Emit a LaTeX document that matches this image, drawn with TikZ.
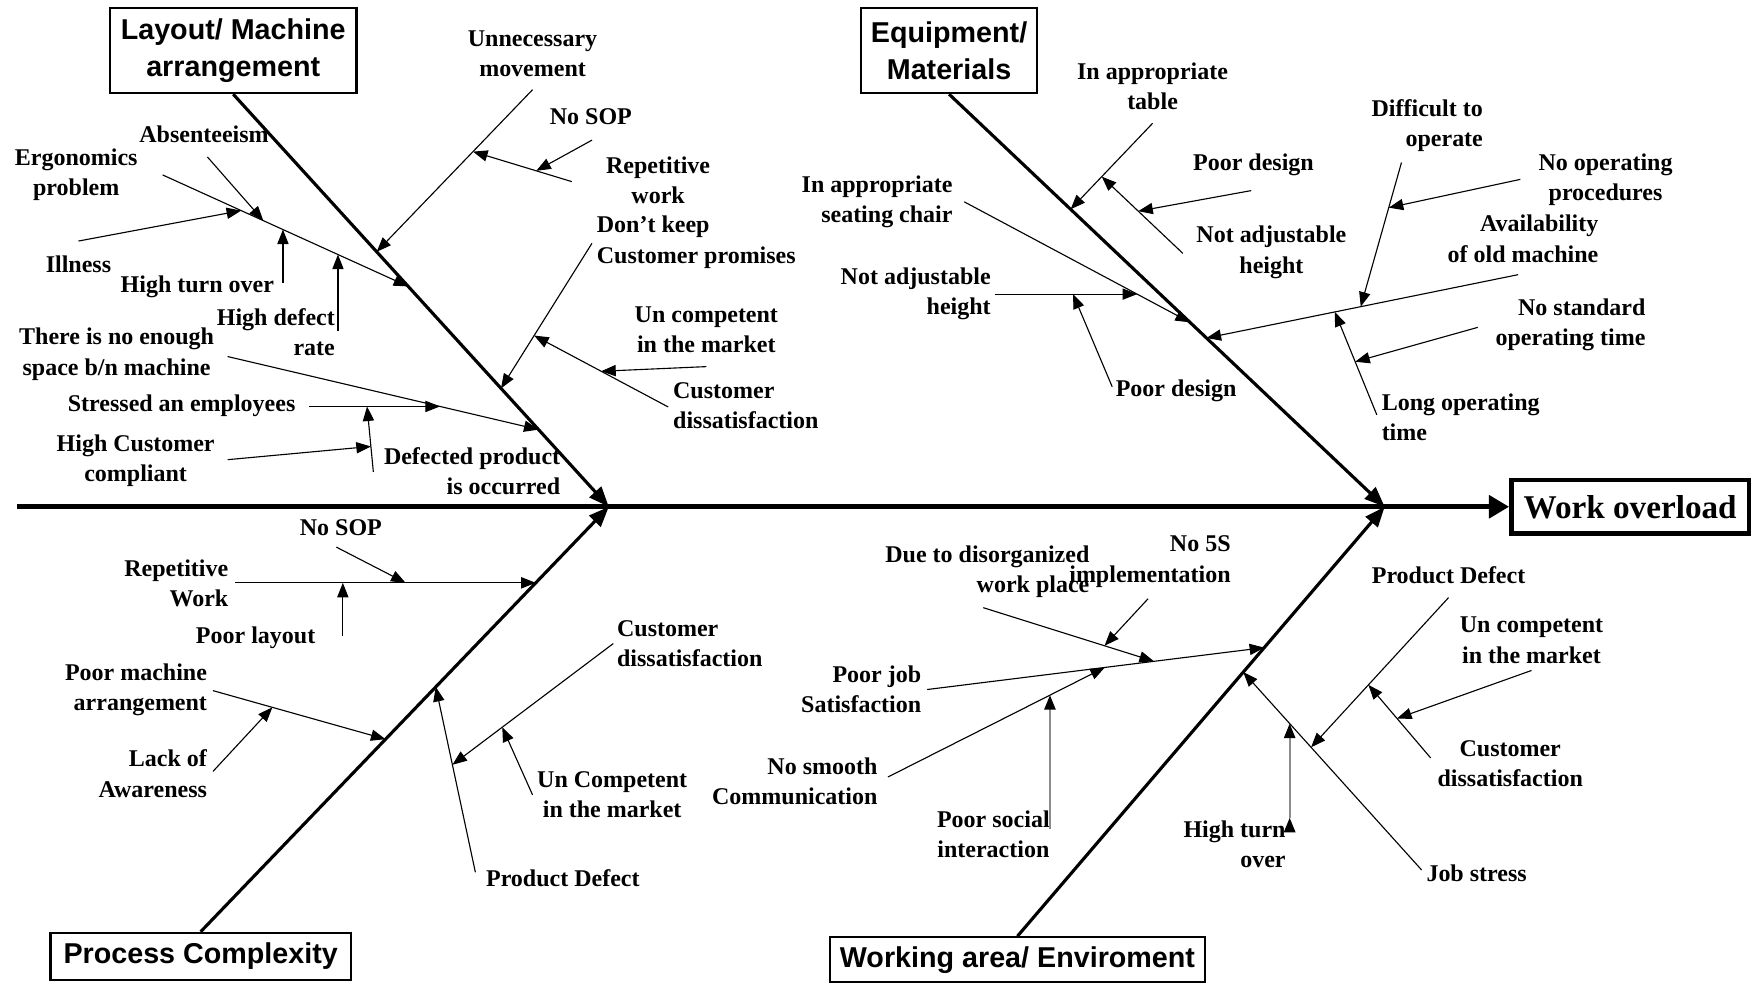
\documentclass[tikz,border=0pt]{standalone}
\usepackage{fontspec}
\setmainfont{Liberation Serif}
\newfontfamily\boxfont{Liberation Sans}
\usetikzlibrary{calc,arrows.meta}

\begin{document}
\begin{tikzpicture}[x=0.5pt,y=-0.5pt,
    >={Triangle[length=6.5pt,width=5pt]},
    cause/.style={inner sep=0pt,align=center,font=\bfseries\fontsize{10.7}{13.5}\selectfont},
    head/.style={draw,line width=1pt,inner sep=0pt,align=center,
      font=\boxfont\bfseries\fontsize{12.8}{16.5}\selectfont},
    bone/.style={line width=1.4pt,-{Triangle[length=9pt,width=7pt]}},
    twig/.style={line width=0.5pt,->},
    faint/.style={line width=1pt,draw=black!45,-{Triangle[length=6.5pt,width=5pt,color=black]}}
  ]
  \useasboundingbox (0,0) rectangle (1568,876);

  % heads and effect
  \node[head,minimum width=110pt,minimum height=38pt] (layout) at (208,45) {Layout/ Machine\\arrangement};
  \node[head,minimum width=78.5pt,minimum height=38pt] (equip) at (846.5,45) {Equipment/\\Materials};
  \node[head,minimum width=134pt,minimum height=21pt] (process) at (179,853) {Process Complexity};
  \node[head,minimum width=167.5pt,minimum height=20pt] (working) at (907.5,856) {Working area/ Enviroment};
  \node[head,line width=2pt,minimum width=106pt,minimum height=24pt,
    font=\bfseries\fontsize{14.8}{18}\selectfont] (effect) at (1454,452) {Work overload};

  % spine and bones
  \coordinate (tail) at (15,452);
  \coordinate (jl) at (543,452);
  \coordinate (jr) at (1235,452);
  \draw[line width=2.1pt,-{Triangle[length=9pt,width=10pt]}] (tail) -- (effect.west);
  \path[bone] (layout.south)  edge (jl)
              (process.north) edge (jl)
              (equip.south)   edge (jr)
              (working.north) edge (jr);

  % layout / machine arrangement
  \node[cause] (unnec) at (475,48) {Unnecessary\\movement};
  \coordinate (unnecA) at (475,80);
  \coordinate (unnecB) at ($(layout.south)!0.382!(jl)$);
  \node[cause] (repw) at (587,161) {Repetitive\\work};
  \coordinate (repwA) at (510,162);
  \coordinate (repwB) at ($(unnecA)!0.382!(unnecB)$);
  \node[cause] (sop) at (527,104) {No SOP};
  \coordinate (sopA) at (528,125);
  \coordinate (sopB) at ($(repwA)!0.36!(repwB)$);
  \node[cause,anchor=west,align=left] (promise) at (532,216) {Don’t keep\\Customer promises};
  \coordinate (promiseA) at (528,217);
  \coordinate (promiseB) at ($(layout.south)!0.713!(jl)$);
  \node[cause,anchor=west,align=left] (cdis) at (600,362) {Customer\\dissatisfaction};
  \coordinate (cdisA) at (596,363);
  \coordinate (cdisB) at ($(promiseA)!0.636!(promiseB)$);
  \node[cause] (uncomp) at (630,294) {Un competent\\in the market};
  \coordinate (uncompA) at (630,327);
  \coordinate (uncompB) at ($(cdisA)!0.5!(cdisB)$);
  \node[cause] (ergo) at (68,156) {Ergonomics\\problem};
  \coordinate (ergoA) at (145,156);
  \coordinate (ergoB) at ($(layout.south)!0.466!(jl)$);
  \node[cause] (absent) at (182,120) {Absenteeism};
  \coordinate (absentA) at (185,140);
  \coordinate (absentB) at ($(ergoA)!0.41!(ergoB)$);
  \node[cause] (ill) at (70,236) {Illness};
  \coordinate (illA) at (70,215);
  \coordinate (illB) at ($(ergoA)!0.32!(ergoB)$);
  \node[cause] (turn) at (176,256) {High turn over};
  \coordinate (turnB) at ($(ergoA)!0.49!(ergoB)$);
  \coordinate (turnA) at ($(turnB)+(0,48)$);
  \node[cause,anchor=east,align=right] (defect) at (299,296) {High defect\\rate};
  \coordinate (defectB) at ($(ergoA)!0.714!(ergoB)$);
  \coordinate (defectA) at ($(defectB)+(0,68)$);
  \node[cause] (space) at (104,316) {There is no enough\\space b/n machine};
  \coordinate (spaceA) at (203,318);
  \coordinate (spaceB) at ($(layout.south)!0.813!(jl)$);
  \node[cause] (stress) at (162,362) {Stressed an employees};
  \coordinate (stressB) at ($(spaceA)!0.683!(spaceB)$);
  \coordinate (stressA) at ($(stressB)+(-117,0)$);
  \node[cause,anchor=east,align=right] (occur) at (500,420) {Defected product\\is occurred};
  \coordinate (occurA) at (333,421);
  \coordinate (occurB) at ($(stressA)!0.444!(stressB)$);
  \node[cause] (compl) at (121,411) {High Customer\\compliant};
  \coordinate (complA) at (203,410);
  \coordinate (complB) at ($(occurA)!0.39!(occurB)$);
  \path[twig] (unnecA) edge (unnecB)   (repwA) edge (repwB)     (sopA) edge (sopB)
              (promiseA) edge (promiseB) (cdisA) edge (cdisB)   (uncompA) edge (uncompB)
              (ergoA) edge (ergoB)     (absentA) edge (absentB) (illA) edge (illB)
              (turnA) edge (turnB)     (defectA) edge (defectB)
              (spaceA) edge (spaceB)   (stressA) edge (stressB) (occurA) edge (occurB)
              (complA) edge (complB);

  % equipment / materials
  \node[cause] (table) at (1028,77) {In appropriate\\table};
  \coordinate (tableA) at (1028,110);
  \coordinate (tableB) at ($(equip.south)!0.279!(jr)$);
  \node[cause] (adj) at (1134,225) {Not adjustable\\height};
  \coordinate (adjA) at (1055,226);
  \coordinate (adjB) at ($(tableA)!0.62!(tableB)$);
  \node[cause] (design) at (1118,147) {Poor design};
  \coordinate (designA) at (1116,170);
  \coordinate (designB) at ($(adjA)!0.55!(adjB)$);
  \node[cause,anchor=east,align=right] (chair) at (850,180) {In appropriate\\seating chair};
  \coordinate (chairA) at (860,180);
  \coordinate (chairB) at ($(equip.south)!0.553!(jr)$);
  \node[cause,anchor=east,align=right] (height) at (884,262) {Not adjustable\\height};
  \coordinate (heightB) at ($(chairA)!0.766!(chairB)$);
  \coordinate (heightA) at ($(heightB)+(-127,0)$);
  \node[cause] (design2) at (1049,349) {Poor design};
  \coordinate (design2A) at (992,345);
  \coordinate (design2B) at ($(heightA)!0.55!(heightB)$);
  \node[cause,anchor=east,align=right] (oldmach) at (1426,213) {Availability\\of old machine};
  \coordinate (oldmachA) at (1354,245);
  \coordinate (oldmachB) at ($(equip.south)!0.591!(jr)$);
  \node[cause,anchor=east,align=right] (operate) at (1323,112) {Difficult to\\operate};
  \coordinate (operateA) at (1250,145);
  \coordinate (operateB) at ($(oldmachA)!0.505!(oldmachB)$);
  \node[cause] (proc) at (1432,160) {No operating\\procedures};
  \coordinate (procA) at (1356,160);
  \coordinate (procB) at ($(operateA)!0.313!(operateB)$);
  \node[cause,anchor=west,align=left] (longop) at (1232,372) {Long operating\\time};
  \coordinate (longopA) at (1228,370);
  \coordinate (longopB) at ($(oldmachA)!0.588!(oldmachB)$);
  \node[cause,anchor=east,align=right] (stdtime) at (1468,290) {No standard\\operating time};
  \coordinate (stdtimeA) at (1318,292);
  \coordinate (stdtimeB) at ($(longopA)!0.516!(longopB)$);
  \path[twig] (tableA) edge (tableB)     (adjA) edge (adjB)         (designA) edge (designB)
              (chairA) edge (chairB)     (heightA) edge (heightB)   (design2A) edge (design2B)
              (oldmachA) edge (oldmachB) (operateA) edge (operateB) (procA) edge (procB)
              (longopA) edge (longopB)   (stdtimeA) edge (stdtimeB);

  % process complexity
  \node[cause,anchor=east,align=right] (repw2) at (204,520) {Repetitive\\Work};
  \coordinate (repw2B) at ($(process.north)!0.821!(jl)$);
  \coordinate (repw2A) at ($(repw2B)+(-268,0)$);
  \node[cause] (sop2) at (304,471) {No SOP};
  \coordinate (sop2A) at (300,488);
  \coordinate (sop2B) at ($(repw2A)!0.567!(repw2B)$);
  \node[cause] (layoutc) at (228,569) {Poor layout};
  \coordinate (layoutcB) at ($(repw2A)!0.358!(repw2B)$);
  \coordinate (layoutcA) at ($(layoutcB)+(0,47)$);
  \node[cause,anchor=east,align=right] (machine) at (185,615) {Poor machine\\arrangement};
  \coordinate (machineA) at (190,616);
  \coordinate (machineB) at ($(process.north)!0.453!(jl)$);
  \node[cause,anchor=east,align=right] (aware) at (185,690) {Lack of\\Awareness};
  \coordinate (awareA) at (190,688);
  \coordinate (awareB) at ($(machineA)!0.344!(machineB)$);
  \node[cause] (defect2) at (502,783) {Product Defect};
  \coordinate (defect2A) at (424,778);
  \coordinate (defect2B) at ($(process.north)!0.576!(jl)$);
  \node[cause,anchor=west,align=left] (cdis2) at (550,574) {Customer\\dissatisfaction};
  \coordinate (cdis2A) at (547,574);
  \coordinate (cdis2B) at ($(defect2A)!0.58!(defect2B)$);
  \node[cause] (uncomp2) at (546,709) {Un Competent\\in the market};
  \coordinate (uncomp2A) at (475,709);
  \coordinate (uncomp2B) at ($(cdis2A)!0.69!(cdis2B)$);
  \path[twig] (repw2A) edge (repw2B)   (sop2A) edge (sop2B)   (layoutcA) edge (layoutcB)
              (machineA) edge (machineB) (awareA) edge (awareB)
              (defect2A) edge (defect2B) (cdis2A) edge (cdis2B) (uncomp2A) edge (uncomp2B);

  % working area / enviroment
  \node[cause,anchor=east,align=right] (jobsat) at (822,615) {Poor job\\Satisfaction};
  \coordinate (jobsatA) at (827,615);
  \coordinate (jobsatB) at ($(working.north)!0.672!(jr)$);
  \node[cause,anchor=east,align=right] (disorg) at (972,510) {Due to disorganized\\work place};
  \coordinate (disorgA) at (877,542);
  \coordinate (disorgB) at ($(jobsatA)!0.673!(jobsatB)$);
  \node[cause,anchor=east,align=right] (fives) at (1098,501) {No 5S\\implementation};
  \coordinate (fivesA) at (1024,534);
  \coordinate (fivesB) at ($(disorgA)!0.71!(disorgB)$);
  \node[cause,anchor=east,align=right] (smooth) at (783,697) {No smooth\\Communication};
  \coordinate (smoothA) at (792,693);
  \coordinate (smoothB) at ($(jobsatA)!0.527!(jobsatB)$);
  \node[cause] (social) at (886,744) {Poor social\\interaction};
  \coordinate (socialB) at ($(smoothA)!0.747!(smoothB)$);
  \coordinate (socialA) at ($(socialB)+(0,119)$);
  \node[cause] (jobstress) at (1317,779) {Job stress};
  \coordinate (jobstressA) at (1268,776);
  \coordinate (jobstressB) at ($(working.north)!0.615!(jr)$);
  \node[cause,anchor=east,align=right] (turn2) at (1147,753) {High turn\\over};
  \coordinate (turn2B) at ($(jobstressA)!0.74!(jobstressB)$);
  \coordinate (turn2A) at ($(turn2B)+(0,84)$);
  \node[cause] (defect3) at (1292,513) {Product Defect};
  \coordinate (defect3A) at (1292,533);
  \coordinate (defect3B) at ($(jobstressA)!0.62!(jobstressB)$);
  \node[cause] (cdis3) at (1347,681) {Customer\\dissatisfaction};
  \coordinate (cdis3A) at (1276,676);
  \coordinate (cdis3B) at ($(defect3A)!0.583!(defect3B)$);
  \node[cause] (uncomp3) at (1366,571) {Un competent\\in the market};
  \coordinate (uncomp3A) at (1366,598);
  \coordinate (uncomp3B) at ($(cdis3A)!0.54!(cdis3B)$);
  \path[twig] (jobsatA) edge (jobsatB)   (disorgA) edge (disorgB)   (fivesA) edge (fivesB)
              (smoothA) edge (smoothB)   (jobstressA) edge (jobstressB)
              (defect3A) edge (defect3B) (cdis3A) edge (cdis3B)     (uncomp3A) edge (uncomp3B);
  \path[faint] (socialA) edge (socialB)
               (turn2A) edge (turn2B);
\end{tikzpicture}
\end{document}
